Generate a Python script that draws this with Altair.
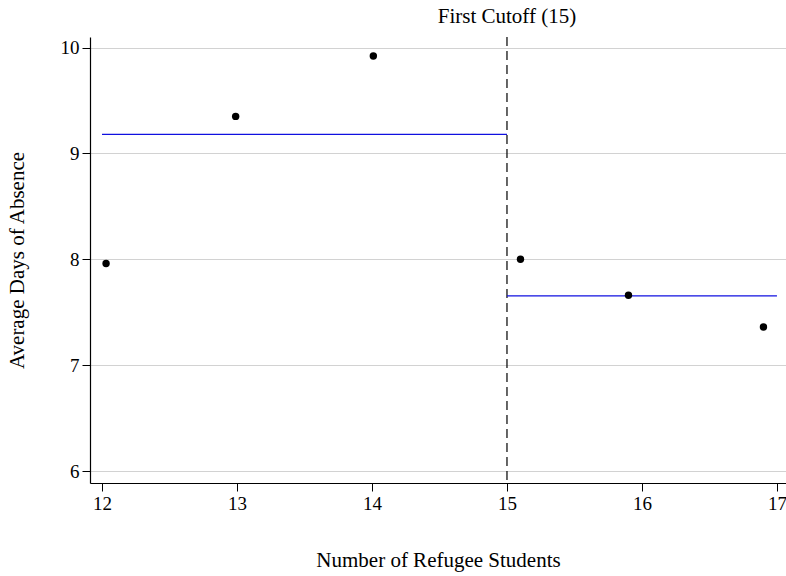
import altair as alt
import pandas as pd

# Binned means of absence by number of refugee students
students = [12.03, 12.99, 14.01, 15.1, 15.9, 16.9]
absence = [7.96, 9.35, 9.92, 8.0, 7.66, 7.36]

# Fitted means on each side of the cutoff
fit_x_start = [12, 15]
fit_x_end = [15, 17]
fit_y = [9.18, 7.655]

cutoff = [15]
cutoff_label = ["First Cutoff (15)"]

points = pd.DataFrame({"students": students, "absence": absence})
fits = pd.DataFrame({"x0": fit_x_start, "x1": fit_x_end, "y": fit_y})
cut = pd.DataFrame({"x": cutoff, "label": cutoff_label})

serif = "Liberation Serif"

x_scale = alt.Scale(domain=[11.911, 17.067], nice=False, zero=False)
y_scale = alt.Scale(domain=[5.887, 10.1], nice=False, zero=False)

x_axis = alt.Axis(
    title="Number of Refugee Students",
    values=[12, 13, 14, 15, 16, 17],
    format="d",
    grid=False,
    titlePadding=36,
)
y_axis = alt.Axis(
    title="Average Days of Absence",
    values=[6, 7, 8, 9, 10],
    format="d",
    grid=True,
    titlePadding=33,
)

dots = alt.Chart(points).mark_circle(size=55, color="black", opacity=1).encode(
    x=alt.X("students:Q", scale=x_scale, axis=x_axis),
    y=alt.Y("absence:Q", scale=y_scale, axis=y_axis),
)

fit_lines = alt.Chart(fits).mark_rule(color="#1010e0", strokeWidth=1.3).encode(
    x=alt.X("x0:Q", scale=x_scale),
    x2="x1:Q",
    y=alt.Y("y:Q", scale=y_scale),
)

cut_rule = alt.Chart(cut).mark_rule(color="black", strokeDash=[9, 5], strokeWidth=1.2).encode(
    x=alt.X("x:Q", scale=x_scale),
)

cut_text = alt.Chart(cut).mark_text(
    font=serif, fontSize=21, color="black", baseline="middle", align="center"
).encode(
    x=alt.X("x:Q", scale=x_scale),
    y=alt.value(-20),
    text="label:N",
)

chart = (
    alt.layer(cut_rule, fit_lines, dots, cut_text)
    .properties(
        width=696,
        height=446,
        autosize=alt.AutoSizeParams(type="none"),
        padding={"left": 90, "top": 37, "right": 0, "bottom": 93},
    )
    .configure_view(stroke=None)
    .configure_axis(
        labelFont=serif,
        titleFont=serif,
        labelFontSize=19,
        titleFontSize=21,
        titleFontWeight="normal",
        labelColor="black",
        titleColor="black",
        domainColor="black",
        domainWidth=1.2,
        tickColor="black",
        tickSize=8,
        labelPadding=3,
        gridColor="#d2d2d2",
        gridWidth=1,
    )
)

chart.save("out.html", embed_options={"renderer": "svg", "actions": False})
